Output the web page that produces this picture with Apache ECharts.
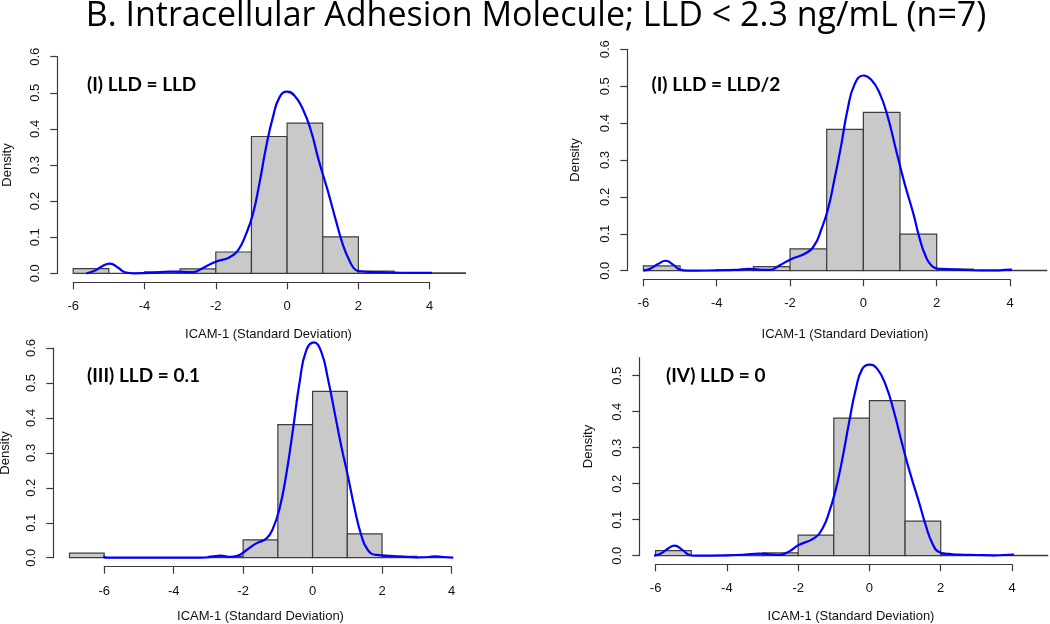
<!DOCTYPE html>
<html>
<head>
<meta charset="utf-8">
<script src="https://cdn.jsdelivr.net/npm/echarts@6/dist/echarts.min.js"></script>
<style>
html,body{margin:0;padding:0;background:#fff;}
#chart{width:1050px;height:624px;}
</style>
</head>
<body>
<div id="chart"></div>
<script>
// ---------- DATA ----------
const chartTitle = 'B. Intracellular Adhesion Molecule; LLD < 2.3 ng/mL (n=7)';
const panelLabels = ['(I) LLD = LLD', '(I) LLD = LLD/2', '(III) LLD = 0.1', '(IV) LLD = 0'];
const xAxisTitle = 'ICAM-1 (Standard Deviation)';
const yAxisTitle = 'Density';

const xTicks = [-6, -4, -2, 0, 2, 4];
const yTicks6 = [0, 0.1, 0.2, 0.3, 0.4, 0.5, 0.6];
const yTicks5 = [0, 0.1, 0.2, 0.3, 0.4, 0.5];

// histogram breaks and densities
const breaks1 = [-6, -5, -4, -3, -2, -1, 0, 1, 2, 3, 4, 5];
const hist1 = [0.013, 0, 0.004, 0.012, 0.059, 0.379, 0.416, 0.101, 0.006, 0, 0.001];
const breaks2 = [-6, -5, -4, -3, -2, -1, 0, 1, 2, 3, 4, 5];
const hist2 = [0.013, 0, 0.003, 0.011, 0.059, 0.383, 0.429, 0.099, 0.004, 0, 0.001];
const breaks3 = [-7, -6, -5, -4, -3, -2, -1, 0, 1, 2, 3, 4];
const hist3 = [0.013, 0, 0, 0, 0.004, 0.051, 0.381, 0.476, 0.068, 0.004, 0];
const breaks4 = [-6, -5, -4, -3, -2, -1, 0, 1, 2, 3, 4, 5];
const hist4 = [0.014, 0, 0.002, 0.008, 0.057, 0.382, 0.431, 0.096, 0.003, 0, 0.001];

// kernel density curves [x, density]
const kde1 = [[-5.63,0],[-5.4,0.007],[-5.2,0.019],[-4.97,0.027],[-4.75,0.016],[-4.55,0.003],[-4.3,0],[-3.8,0.001],[-3.3,0.005],[-2.9,0.004],[-2.64,0.003],[-2.36,0.015],[-2.0,0.032],[-1.62,0.044],[-1.38,0.063],[-1.15,0.109],[-0.96,0.164],[-0.78,0.247],[-0.59,0.349],[-0.40,0.432],[-0.21,0.488],[0,0.503],[0.21,0.492],[0.44,0.455],[0.67,0.395],[0.89,0.312],[1.14,0.229],[1.37,0.146],[1.56,0.081],[1.75,0.035],[1.93,0.009],[2.1,0.005],[2.6,0.003],[3.0,0.002],[3.5,0.001],[4.0,0.001],[4.3,0.003],[4.6,0.001],[4.87,0]];
const kde2 = [[-6.0,0],[-5.8,0.006],[-5.6,0.018],[-5.39,0.027],[-5.2,0.017],[-5.0,0.003],[-4.8,0],[-4.0,0.001],[-3.5,0.002],[-3.13,0.005],[-2.85,0.003],[-2.56,0.002],[-2.29,0.014],[-2.0,0.030],[-1.56,0.048],[-1.33,0.07],[-1.15,0.111],[-0.97,0.165],[-0.79,0.247],[-0.61,0.337],[-0.43,0.437],[-0.24,0.505],[0,0.529],[0.21,0.518],[0.44,0.482],[0.66,0.419],[0.89,0.328],[1.12,0.238],[1.36,0.156],[1.52,0.093],[1.70,0.039],[1.88,0.012],[2.11,0.005],[2.6,0.003],[3.2,0.001],[3.7,0.001],[4.03,0.003],[4.35,0.001],[4.71,0]];
const kde3 = [[-6.92,0],[-6.7,0.01],[-6.55,0.025],[-6.40,0.032],[-6.25,0.022],[-6.1,0.006],[-5.9,0],[-3.2,0],[-2.9,0.003],[-2.65,0.006],[-2.38,0.002],[-2.14,0.006],[-1.9,0.022],[-1.62,0.041],[-1.33,0.055],[-1.14,0.084],[-0.95,0.141],[-0.76,0.237],[-0.56,0.370],[-0.37,0.504],[-0.18,0.594],[0.04,0.616],[0.25,0.589],[0.44,0.513],[0.63,0.418],[0.82,0.322],[1.01,0.237],[1.21,0.141],[1.40,0.065],[1.59,0.022],[1.83,0.008],[2.11,0.006],[2.59,0.003],[3.0,0.001],[3.35,0.002],[3.52,0.004],[3.75,0.002],[4.05,0]];
const kde4 = [[-6.05,0],[-5.85,0.006],[-5.65,0.02],[-5.47,0.028],[-5.25,0.016],[-5.05,0.002],[-4.9,0],[-4.0,0.001],[-3.5,0.003],[-3.1,0.006],[-2.8,0.004],[-2.53,0.002],[-2.25,0.012],[-2.0,0.029],[-1.55,0.049],[-1.32,0.075],[-1.13,0.121],[-0.94,0.186],[-0.76,0.269],[-0.57,0.371],[-0.38,0.464],[-0.20,0.519],[0,0.531],[0.22,0.519],[0.46,0.473],[0.69,0.399],[0.93,0.306],[1.16,0.223],[1.39,0.149],[1.58,0.084],[1.77,0.033],[1.95,0.010],[2.23,0.005],[2.51,0.003],[3.0,0.002],[3.5,0.001],[4.03,0.003],[4.35,0.001],[4.67,0]];

// ---------- LAYOUT (pixels) ----------
// x0/x1: pixel of x=-6 / x=4 ; yb: pixel of y=0 ; yt: pixel of y=yMax
const layout = [
  {x0:73.2, x1:429.7, yb:273.3, yt:56.7, yMax:0.6, yAxisX:57.3, xAxisY:282.3,
   label:[87, 85], dens:[7, 165], xname:[268.5, 334]},
  {x0:643.4, x1:1010, yb:270.7, yt:49.3, yMax:0.6, yAxisX:627.3, xAxisY:279.3,
   label:[651.5, 85], dens:[575, 160], xname:[845, 334]},
  {x0:104.2, x1:451.5, yb:557.7, yt:348, yMax:0.6, yAxisX:53.3, xAxisY:566.7,
   label:[87, 376], dens:[5.5, 453], xname:[260.5, 616.5]},
  {x0:655.6, x1:1012, yb:555.7, yt:357.7, yMax:0.55, yAxisX:639.3, xAxisY:564.3,
   label:[666, 376], dens:[588.5, 446.5], xname:[851, 616.5]}
];

const histData = [[breaks1, hist1], [breaks2, hist2], [breaks3, hist3], [breaks4, hist4]];
const kdes = [kde1, kde2, kde3, kde4];
const yTickSets = [yTicks6, yTicks6, yTicks6, yTicks5];

const axisColor = '#3a3a3a';
const tickFont = {fontFamily: 'Liberation Sans, Arial, sans-serif', fontSize: 13, color: '#111'};

const grids = [], xAxes = [], yAxes = [], series = [], graphics = [];

layout.forEach((L, i) => {
  grids.push({left: L.x0, top: L.yt, width: L.x1 - L.x0, height: L.yb - L.yt, containLabel: false});
  xAxes.push({
    type: 'value', gridIndex: i, min: -6, max: 4, offset: L.xAxisY - L.yb, position: 'bottom',
    splitLine: {show: false},
    axisLine: {show: true, onZero: false, lineStyle: {color: axisColor, width: 1.2}},
    axisTick: {show: true, length: 7, customValues: xTicks, lineStyle: {color: axisColor, width: 1.2}},
    axisLabel: Object.assign({margin: 18, customValues: xTicks}, tickFont)
  });
  const yt = yTickSets[i];
  yAxes.push({
    type: 'value', gridIndex: i, min: 0, max: L.yMax, offset: L.x0 - L.yAxisX, position: 'left',
    splitLine: {show: false},
    axisLine: {show: true, onZero: false, lineStyle: {color: axisColor, width: 1.2}},
    axisTick: {show: true, length: 7, customValues: yt, lineStyle: {color: axisColor, width: 1.2}},
    axisLabel: Object.assign({margin: 15, rotate: 90, customValues: yt, formatter: v => v.toFixed(1)}, tickFont)
  });
  const [br, hv] = histData[i];
  const bins = hv.map((d, k) => [br[k], br[k + 1], d]);
  series.push({
    type: 'custom', xAxisIndex: i, yAxisIndex: i, clip: false, silent: true,
    data: bins,
    encode: {x: [0, 1], y: 2},
    renderItem: function (params, api) {
      const p0 = api.coord([api.value(0), 0]);
      const p1 = api.coord([api.value(1), api.value(2)]);
      return {
        type: 'rect',
        shape: {x: p0[0], y: p1[1], width: p1[0] - p0[0], height: p0[1] - p1[1]},
        style: {fill: '#c9c9c9', stroke: '#3c3c3c', lineWidth: 1.2}
      };
    },
    z: 2
  });
  series.push({
    type: 'line', xAxisIndex: i, yAxisIndex: i, clip: false, silent: true,
    data: kdes[i], showSymbol: false, smooth: 0.5,
    lineStyle: {color: '#0000ff', width: 2.2},
    z: 3
  });
  graphics.push({
    type: 'text', x: L.label[0], y: L.label[1],
    style: {text: panelLabels[i], font: 'bold 19px Lato, "Open Sans", sans-serif', fill: '#000',
            align: 'left', verticalAlign: 'middle'}
  });
  graphics.push({
    type: 'text', x: L.dens[0], y: L.dens[1], rotation: Math.PI / 2,
    style: {text: yAxisTitle, font: '13px "Liberation Sans", Arial, sans-serif', fill: '#111',
            align: 'center', verticalAlign: 'middle'}
  });
  graphics.push({
    type: 'text', x: L.xname[0], y: L.xname[1],
    style: {text: xAxisTitle, font: '13px "Liberation Sans", Arial, sans-serif', fill: '#111',
            align: 'center', verticalAlign: 'middle'}
  });
});

graphics.push({
  type: 'text', x: 536, y: 16,
  style: {text: chartTitle, font: '34px "Open Sans", Lato, sans-serif', fill: '#000',
          align: 'center', verticalAlign: 'middle'}
});

const chart = echarts.init(document.getElementById('chart'), null, {renderer: 'canvas'});
chart.setOption({
  backgroundColor: '#fff',
  animation: false,
  grid: grids,
  xAxis: xAxes,
  yAxis: yAxes,
  series: series,
  graphic: graphics
});
</script>
</body>
</html>
